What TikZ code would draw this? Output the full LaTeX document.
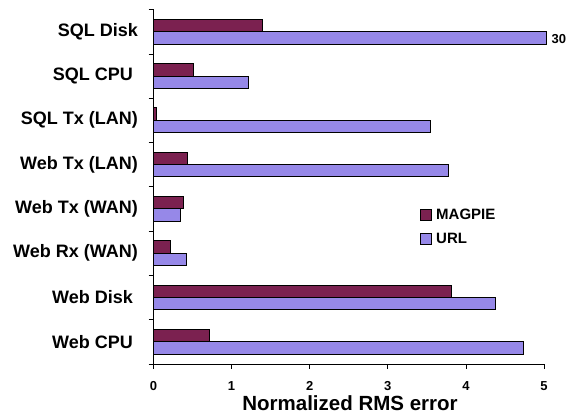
\documentclass[tikz,border=0pt]{standalone}
\usepackage{fontspec}
\setmainfont{Liberation Sans}
\definecolor{magpie}{RGB}{123,33,80}
\definecolor{urlc}{RGB}{150,136,232}
\begin{document}
\begin{tikzpicture}[x=1pt,y=-1pt,
  bar/.style={draw=black,line width=0.8pt},
  catlabel/.style={anchor=east,font=\bfseries\fontsize{18}{20}\selectfont,inner sep=0pt},
  ticklabel/.style={font=\bfseries\fontsize{13}{15}\selectfont,inner sep=0pt,text height=9.4pt,text depth=0pt},
  axline/.style={draw=black,line width=0.8pt}]
\useasboundingbox (0,0) rectangle (568,414);
\def\xo{153.5}
\def\ux{78.1}
% bars: index/magpie/url
\foreach \i/\m/\u in {0/1.40/5.03,1/0.51/1.21,2/0.04/3.54,3/0.43/3.78,4/0.38/0.35,5/0.21/0.42,6/3.81/4.38,7/0.71/4.73}{
  \pgfmathsetmacro{\t}{9.7+44.3*\i}
  \path[bar,fill=magpie] (\xo,\t+9.6) rectangle (\xo+\m*\ux,\t+22);
  \path[bar,fill=urlc] (\xo,\t+22) rectangle (\xo+\u*\ux,\t+34.3);
}
% category labels
\foreach \i/\r/\txt in {0/138/SQL Disk,1/133/SQL CPU,2/138/SQL Tx (LAN),3/138/Web Tx (LAN),4/138/Web Tx (WAN),5/138/Web Rx (WAN),6/133/Web Disk,7/133/Web CPU}{
  \pgfmathsetmacro{\c}{9.7+44.3*\i+22}
  \node[catlabel] (cat\i) at (\r,\c) {\txt};
}
% axes
\path[axline] (\xo,9.7) -- (\xo,364) -- (544,364);
\foreach \i in {0,...,8}{
  \pgfmathsetmacro{\t}{9.7+44.3*\i}
  \path[axline] (\xo-5,\t) -- (\xo,\t);
}
\foreach \k in {0,...,5}{
  \path[axline] (\xo+\k*\ux,364) -- (\xo+\k*\ux,369);
  \node[ticklabel] (tick\k) at (\xo+\k*\ux,385.5) {\k};
}
\node[ticklabel,anchor=west] (over) at (551.5,39) {30};
\node[font=\bfseries\fontsize{20.5}{23}\selectfont,inner sep=0pt,anchor=base,text height=14.8pt,text depth=0pt] (xtitle) at (350,410.5) {Normalized RMS error};
% legend
\path[bar,fill=magpie] (420,209) rectangle (431,220);
\path[bar,fill=urlc] (420,233) rectangle (431,244);
\node[font=\bfseries\fontsize{15}{17}\selectfont,anchor=west,inner sep=0pt] (lm) at (436,214.5) {MAGPIE};
\node[font=\bfseries\fontsize{15}{17}\selectfont,anchor=west,inner sep=0pt] (lu) at (436,238.5) {URL};
\end{tikzpicture}
\end{document}
